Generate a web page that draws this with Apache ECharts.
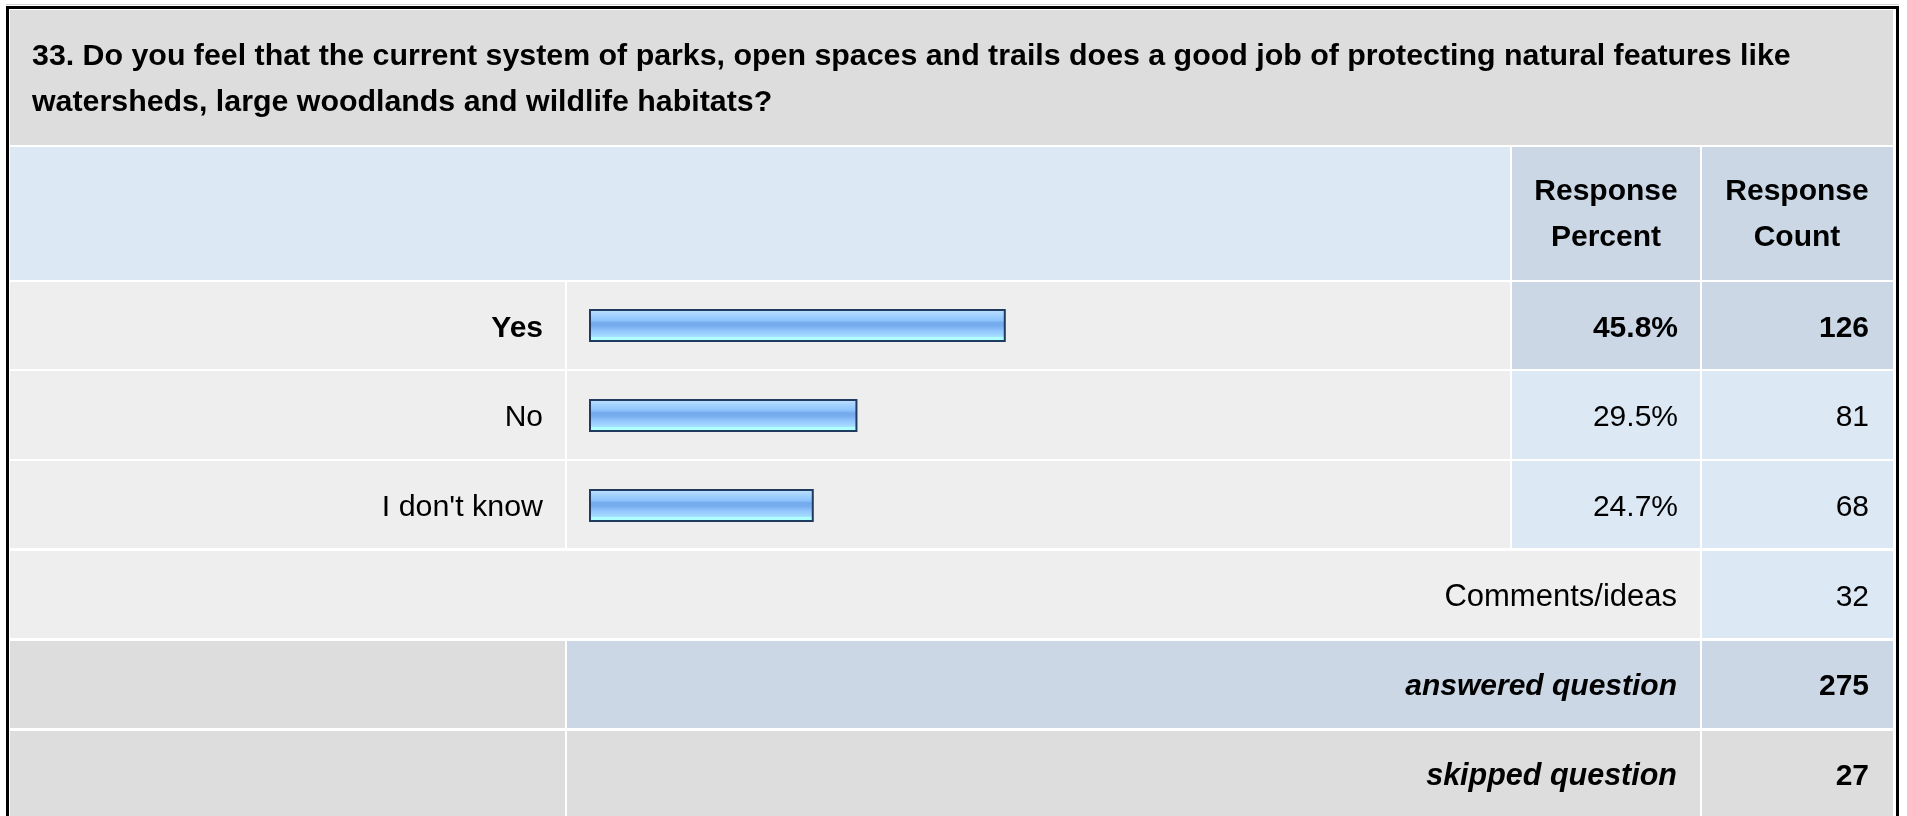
<!DOCTYPE html>
<html><head><meta charset="utf-8">
<script src="https://cdn.jsdelivr.net/npm/echarts@6/dist/echarts.min.js"></script>
<style>html,body{margin:0;padding:0;background:#fff}#c{width:1907px;height:816px}</style>
</head><body><div id="c"></div>
<script>
// ---- data ----
const question = "33. Do you feel that the current system of parks, open spaces and trails does a good job of protecting natural features like\nwatersheds, large woodlands and wildlife habitats?";
const columnHeaders = ["Response\nPercent", "Response\nCount"];
const categories = ["Yes", "No", "I don't know"];
const responsePercent = [45.8, 29.5, 24.7];
const responseCount = [126, 81, 68];
const commentsLabel = "Comments/ideas";
const commentsCount = 32;
const summaryLabels = ["answered question", "skipped question"];
const summaryCounts = [275, 27];

// ---- layout / style ----
const FF = '"Liberation Sans", Arial, sans-serif';
const GRAY = '#dddddd', LIGHT = '#eeeeee', BLUE = '#dde8f5', STEEL = '#cbd7e5';
const MID = 10.4; // baseline offset from canvas 'middle' for 30px

function rect(x1, y1, x2, y2, fill) {
  return { type: 'rect', silent: true, shape: { x: x1, y: y1, width: x2 - x1, height: y2 - y1 }, style: { fill: fill } };
}
function txt(x, baseline, str, weight, align, italic, size) {
  const s = size || 30;
  return { type: 'text', silent: true, x: x, y: baseline - MID * s / 30,
    style: { text: String(str), font: (italic ? 'italic ' : '') + (weight || 'normal') + ' ' + s + 'px ' + FF,
      fill: '#000', align: align || 'right', verticalAlign: 'middle' } };
}

const rows = [[282, 369], [371, 459], [461, 548]];
const g = [];
// outer frame
g.push(rect(6, 4, 1899, 5, '#d4d4d4'));
g.push(rect(6, 6, 1899, 816, '#000000'));
g.push(rect(9, 9, 1896, 816, '#ffffff'));
// title
g.push(rect(10, 10, 1893, 145, GRAY));
g.push({ type: 'text', silent: true, x: 32, y: 66.7 - MID - 23,
  style: { text: question, font: 'bold 30.35px ' + FF, fill: '#000', align: 'left', verticalAlign: 'top', lineHeight: 46 } });
// header row
g.push(rect(10, 147, 1510, 280, BLUE));
g.push(rect(1512, 147, 1700, 280, STEEL));
g.push(rect(1702, 147, 1893, 280, STEEL));
g.push({ type: 'text', silent: true, x: 1606, y: 202 - MID - 23,
  style: { text: columnHeaders[0], font: 'bold 30px ' + FF, fill: '#000', align: 'center', verticalAlign: 'top', lineHeight: 46 } });
g.push({ type: 'text', silent: true, x: 1797, y: 202 - MID - 23,
  style: { text: columnHeaders[1], font: 'bold 30px ' + FF, fill: '#000', align: 'center', verticalAlign: 'top', lineHeight: 46 } });
// answer rows
categories.forEach(function (c, i) {
  const r = rows[i];
  const bold = i === 0 ? 'bold' : 'normal';
  const valFill = i === 0 ? STEEL : BLUE;
  g.push(rect(10, r[0], 565, r[1], LIGHT));
  g.push(rect(567, r[0], 1510, r[1], LIGHT));
  g.push(rect(1512, r[0], 1700, r[1], valFill));
  g.push(rect(1702, r[0], 1893, r[1], valFill));
  const bl = (r[0] + r[1]) / 2 + 13.5;
  g.push(txt(543, bl, c, bold, 'right', false, i === 2 ? 30.4 : 30));
  g.push(txt(1678, bl, responsePercent[i].toFixed(1) + '%', bold));
  g.push(txt(1869, bl, responseCount[i], bold));
});
// comments row
g.push(rect(10, 551, 1700, 638, LIGHT));
g.push(rect(1702, 551, 1893, 638, BLUE));
g.push(txt(1677, 608, commentsLabel, 'normal', 'right', false, 31));
g.push(txt(1869, 608, commentsCount, 'normal'));
// answered
g.push(rect(10, 641, 565, 728, GRAY));
g.push(rect(567, 641, 1700, 728, STEEL));
g.push(rect(1702, 641, 1893, 728, STEEL));
g.push(txt(1677, 697.5, summaryLabels[0], 'bold', 'right', true));
g.push(txt(1869, 697.5, summaryCounts[0], 'bold'));
// skipped
g.push(rect(10, 731, 565, 816, GRAY));
g.push(rect(567, 731, 1700, 816, GRAY));
g.push(rect(1702, 731, 1893, 816, GRAY));
g.push(txt(1677, 787, summaryLabels[1], 'bold', 'right', true, 30.5));
g.push(txt(1869, 787, summaryCounts[1], 'bold'));

const chart = echarts.init(document.getElementById('c'), null, { renderer: 'canvas' });
chart.setOption({
  animation: false,
  backgroundColor: '#ffffff',
  graphic: { elements: g },
  grid: { left: 589, top: 280.5, width: 910, height: 270, containLabel: false },
  xAxis: { type: 'value', min: 0, max: 100, show: false },
  yAxis: { type: 'category', data: categories, inverse: true, show: false },
  series: [{
    type: 'bar', z: 10, barWidth: 33, data: responsePercent,
    itemStyle: {
      borderColor: '#1f3b60', borderWidth: 2,
      color: new echarts.graphic.LinearGradient(0, 0, 0, 1, [
        { offset: 0, color: '#c4e2ff' },
        { offset: 0.15, color: '#a9d5ff' },
        { offset: 0.35, color: '#8cc2fb' },
        { offset: 0.42, color: '#74aaeb' },
        { offset: 0.52, color: '#78aeee' },
        { offset: 0.68, color: '#94c8ff' },
        { offset: 0.83, color: '#a6dcff' },
        { offset: 0.86, color: '#b0ffff' },
        { offset: 1, color: '#b0ffff' }
      ])
    },
    emphasis: { disabled: true }
  }]
});
</script></body></html>
